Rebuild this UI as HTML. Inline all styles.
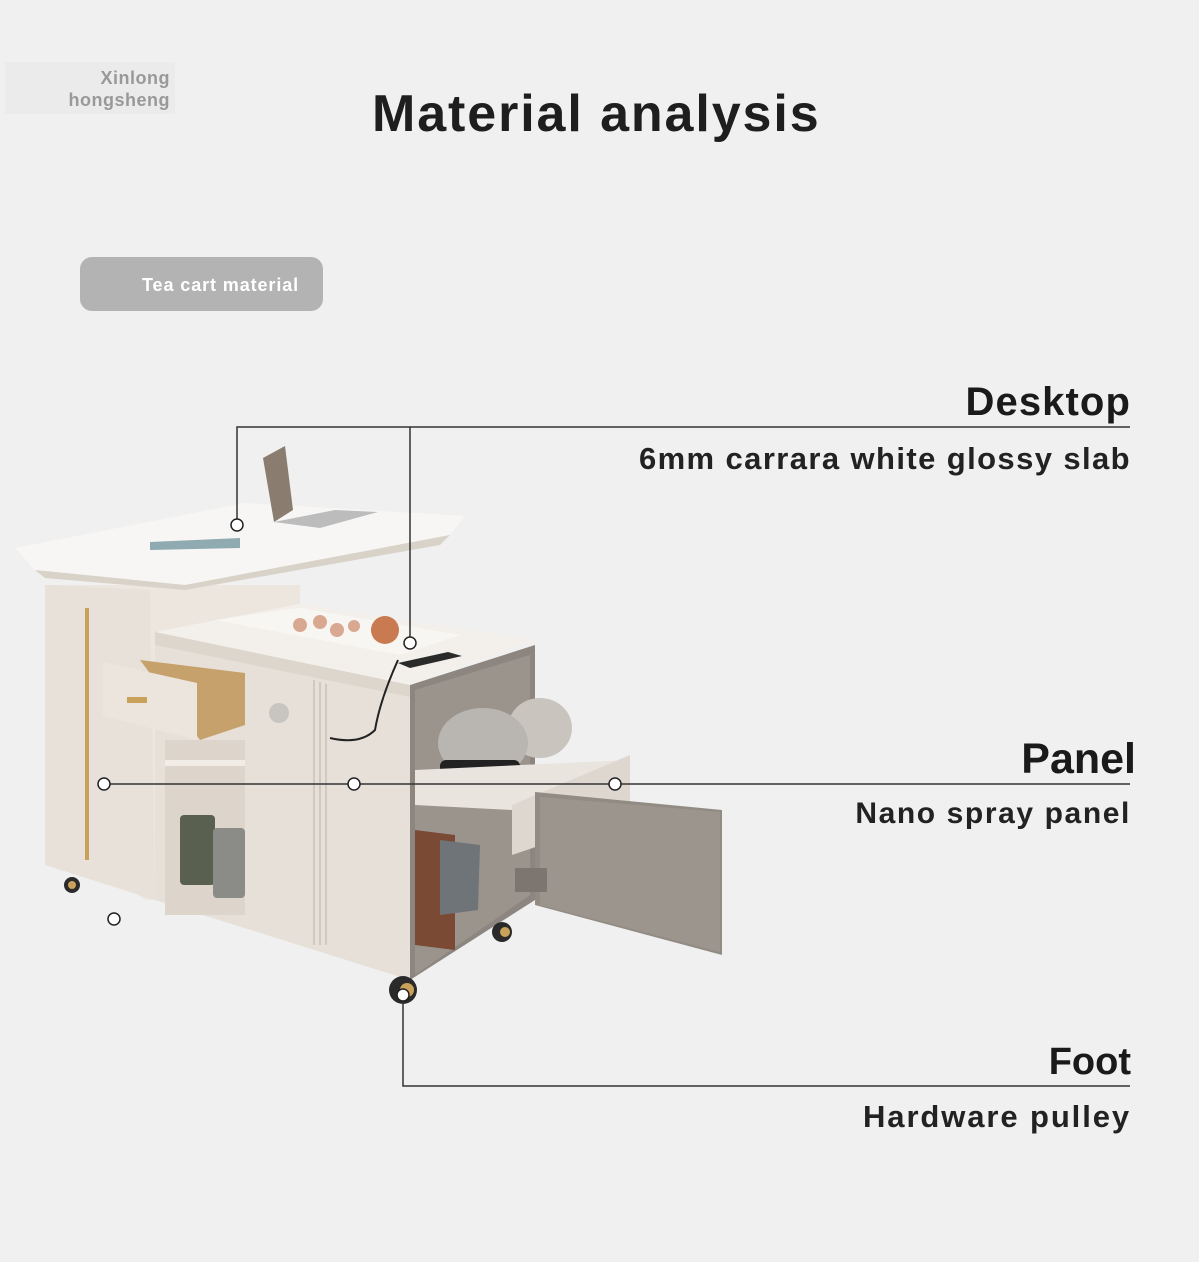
<!DOCTYPE html>
<html><head><meta charset="utf-8"><style>
html,body{margin:0;padding:0;background:#f0f0f0;}
body{width:1199px;height:1262px;position:relative;overflow:hidden;font-family:"Liberation Sans","DejaVu Sans",sans-serif;}
.t{position:absolute;font-weight:bold;color:#1a1a1a;white-space:nowrap;}
</style></head><body>
<div style="position:absolute;left:5px;top:62px;width:170px;height:52px;background:#ebebeb"></div>
<div class="t" style="right:1029px;top:68px;font-size:18px;color:#999;letter-spacing:0.5px;">Xinlong</div>
<div class="t" style="right:1029px;top:90px;font-size:18px;color:#999;letter-spacing:0.5px;">hongsheng</div>
<div class="t" style="left:372px;top:84px;font-size:52px;color:#1e1e1e;letter-spacing:1.9px;">Material analysis</div>
<div style="position:absolute;left:80px;top:257px;width:243px;height:54px;border-radius:12px;background:#b3b3b3"></div>
<div class="t" style="left:142px;top:275px;font-size:18px;color:#fff;letter-spacing:0.9px;">Tea cart material</div>
<div class="t" style="right:68px;top:380px;font-size:40px;letter-spacing:1.1px;">Desktop</div>
<div class="t" style="right:68px;top:441px;font-size:31px;color:#222;letter-spacing:1.4px;">6mm carrara white glossy slab</div>
<div class="t" style="right:63px;top:735px;font-size:43px;">Panel</div>
<div class="t" style="right:68px;top:797px;font-size:30px;color:#222;letter-spacing:1.6px;">Nano spray panel</div>
<div class="t" style="right:68px;top:1041px;font-size:38px;">Foot</div>
<div class="t" style="right:68px;top:1099px;font-size:31px;color:#222;letter-spacing:1.9px;">Hardware pulley</div>
<svg width="1199" height="1262" style="position:absolute;left:0;top:0">
<path d="M45 585 L300 585 L300 900 L150 900 Q140 900 135 890 L45 865 Z" fill="#ece6df"/>
<path d="M45 585 L150 590 L155 900 L45 865 Z" fill="#e7e1da"/>
<rect x="85" y="608" width="4" height="252" fill="#c9a15a"/>
<path d="M155 630 L410 685 L410 980 L155 900 Z" fill="#e6e0d8"/>
<path d="M410 685 L535 645 L535 900 L410 980 Z" fill="#8d8680"/>
<path d="M415 690 L530 655 L530 895 L415 975 Z" fill="#9b948c"/>
<path d="M155 632 L300 604 L535 640 L410 685 Z" fill="#f3f0ec"/>
<path d="M155 632 L410 685 L410 697 L155 645 Z" fill="#ddd6cd"/>
<path d="M215 620 L300 608 L460 635 L400 655 Z" fill="#f8f6f3"/>
<rect x="165" y="740" width="80" height="175" fill="#ddd5cb"/>
<rect x="165" y="760" width="80" height="6" fill="#f1ece5"/>
<rect x="180" y="815" width="35" height="70" rx="4" fill="#5a6050"/>
<rect x="213" y="828" width="32" height="70" rx="4" fill="#8b8b88"/>
<line x1="314" y1="680" x2="314" y2="945" stroke="#d0c9c0" stroke-width="2"/>
<line x1="320" y1="682" x2="320" y2="945" stroke="#d0c9c0" stroke-width="2"/>
<line x1="326" y1="684" x2="326" y2="945" stroke="#d0c9c0" stroke-width="2"/>
<path d="M140 660 L245 673 L245 725 L200 740 Z" fill="#c7a16b"/>
<path d="M103 662 L197 683 L197 740 L103 716 Z" fill="#ebe5dd"/>
<rect x="127" y="697" width="20" height="6" fill="#c9a15a"/>
<circle cx="279" cy="713" r="10" fill="#c8c4bf"/>
<path d="M398 660 Q380 700 375 730 Q360 745 330 738" stroke="#222" stroke-width="2" fill="none"/>
<path d="M415 830 L455 835 L455 950 L415 945 Z" fill="#7a4a35"/>
<path d="M440 840 L480 845 L478 910 L440 915 Z" fill="#6f7478"/>
<ellipse cx="540" cy="728" rx="32" ry="30" fill="#c9c4be"/>
<ellipse cx="483" cy="743" rx="45" ry="35" fill="#b9b5b0"/>
<rect x="440" y="760" width="80" height="25" rx="6" fill="#222"/>
<path d="M415 770 L630 760 L630 790 L512 810 L415 805 Z" fill="#e9e4de"/>
<path d="M512 805 L630 755 L630 815 L512 855 Z" fill="#ddd7cf"/>
<path d="M535 792 L722 810 L722 955 L535 905 Z" fill="#928b84"/>
<path d="M540 797 L720 812 L720 952 L540 905 Z" fill="#9c958d"/>
<rect x="515" y="868" width="32" height="24" fill="#7c7570"/>
<path d="M15 548 L245 503 L465 516 L450 535 L185 585 L35 570 Z" fill="#f7f6f4"/>
<path d="M35 570 L185 585 L450 535 L440 545 L185 590 L45 578 Z" fill="#d9d2c8"/>
<path d="M150 542 L240 538 L240 548 L150 550 Z" fill="#8faab0"/>
<path d="M263 458 L285 446 L293 510 L274 522 Z" fill="#8a7c6e"/>
<path d="M274 522 L335 510 L378 512 L320 528 Z" fill="#bcbcbc"/>
<circle cx="300" cy="625" r="7" fill="#d8a890"/><circle cx="320" cy="622" r="7" fill="#d8a890"/>
<circle cx="337" cy="630" r="7" fill="#d8a890"/><circle cx="354" cy="626" r="6" fill="#d8a890"/>
<circle cx="385" cy="630" r="14" fill="#c97a50"/>
<path d="M398 663 L448 652 L462 656 L410 668 Z" fill="#2a2a2a"/>
<circle cx="72" cy="885" r="8" fill="#2a2a2a"/><circle cx="72" cy="885" r="4" fill="#c9a15a"/>
<circle cx="502" cy="932" r="10" fill="#2a2a2a"/><circle cx="505" cy="932" r="5" fill="#c9a15a"/>
<circle cx="403" cy="990" r="14" fill="#2a2a2a"/><circle cx="407" cy="990" r="7" fill="#c9a15a"/>
<g stroke="#333" stroke-width="1.5" fill="none">
<path d="M237 525 L237 427 L1130 427"/>
<path d="M410 643 L410 427"/>
<path d="M104 784 L1130 784"/>
<path d="M403 993 L403 1086 L1130 1086"/>
</g>
<g fill="#fff" stroke="#222" stroke-width="1.5">
<circle cx="237" cy="525" r="6"/><circle cx="410" cy="643" r="6"/>
<circle cx="104" cy="784" r="6"/><circle cx="354" cy="784" r="6"/><circle cx="615" cy="784" r="6"/>
<circle cx="403" cy="995" r="6"/><circle cx="114" cy="919" r="6"/>
</g>
</svg>
</body></html>
